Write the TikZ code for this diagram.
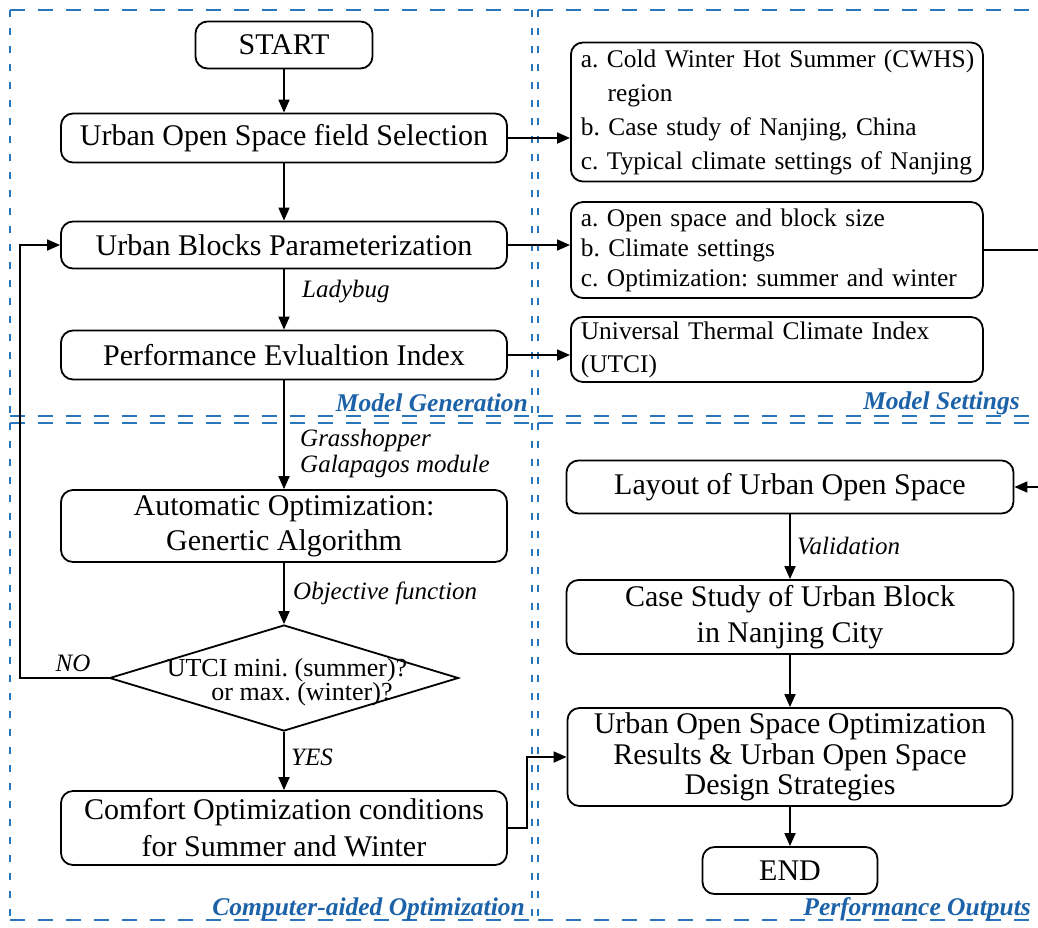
\documentclass[tikz,border=0pt]{standalone}
\usepackage{fontspec}
\setmainfont{Liberation Serif}
\usetikzlibrary{arrows.meta,shapes.geometric}
\definecolor{dashblue}{RGB}{40,118,188}
\definecolor{labblue}{RGB}{28,98,168}
\frenchspacing
\begin{document}
\begin{tikzpicture}[x=1pt,y=-1pt,
  box/.style={draw=black, line width=1.8pt, rounded corners=12pt, inner sep=0pt, align=center, font=\fontsize{30}{35}\selectfont},
  sidebox/.style={draw=black, line width=1.8pt, rounded corners=12pt, inner xsep=10pt, inner ysep=0pt, align=left, anchor=west, text width=392pt},
  arr/.style={line width=1.8pt, -{Triangle[length=13pt,width=11pt]}},
  lab/.style={font=\fontsize{25}{26}\selectfont\itshape, inner sep=0pt},
  sect/.style={font=\fontsize{25.5}{27}\selectfont\bfseries\itshape, text=labblue, inner sep=0pt, anchor=east},
  hdash/.style={draw=dashblue, line width=2.6pt, dash pattern=on 15pt off 13pt},
  vdash/.style={draw=dashblue, line width=2.4pt, dash pattern=on 7pt off 11pt},
]
\useasboundingbox (0,0) rectangle (1038,927);
\clip (0,0) rectangle (1038,927);

% dashed quadrants
\draw[hdash] (10,10) -- (532,10);
\draw[hdash] (10,416) -- (532,416);
\draw[vdash] (10,10) -- (10,416);
\draw[vdash] (532,10) -- (532,416);
\draw[hdash] (538,10) -- (1050,10);
\draw[hdash] (538,416) -- (1050,416);
\draw[vdash] (538,10) -- (538,416);
\draw[hdash] (10,423) -- (532,423);
\draw[hdash] (10,920) -- (532,920);
\draw[vdash] (10,423) -- (10,920);
\draw[vdash] (532,423) -- (532,920);
\draw[hdash] (538,423) -- (1050,423);
\draw[hdash] (538,920) -- (1050,920);
\draw[vdash] (538,423) -- (538,920);

% left column
\node[box, minimum width=177pt, minimum height=47pt] (start) at (284,45) {START};
\node[box, minimum width=446pt, minimum height=49pt] (sel) at (284,138) {Urban Open Space field Selection};
\node[box, minimum width=446pt, minimum height=47pt] (ubp) at (284,245) {Urban Blocks Parameterization};
\node[box, minimum width=446pt, minimum height=49pt] (pei) at (284,355) {Performance Evlualtion Index};
\node[box, minimum width=446pt, minimum height=72pt] (auto) at (284,526) {Automatic Optimization:\\Genertic Algorithm};
\node[draw, diamond, line width=1.8pt, minimum width=349pt, minimum height=106pt, inner sep=0pt] (dia) at (284,678) {};
\node[align=center, inner sep=0pt, font=\fontsize{26}{24}\selectfont] (diatext) at (287,682) {UTCI mini. (summer)?\\\hspace*{30pt}or max. (winter)?};
\node[box, minimum width=446pt, minimum height=74pt, font=\fontsize{30}{37}\selectfont] (comfort) at (284,828) {Comfort Optimization conditions\\for Summer and Winter};

% right column
\node[sidebox, minimum height=139pt, font=\fontsize{25.4}{34}\selectfont] (s1) at (570,112) {\mbox{a. Cold Winter Hot Summer (CWHS)}\\\hspace*{1.05em}region\\\mbox{b. Case study of Nanjing, China}\\\mbox{c. Typical climate settings of Nanjing}};
\node[sidebox, minimum height=96pt, font=\fontsize{25.4}{30}\selectfont] (s2) at (570,250) {\mbox{a. Open space and block size}\\\mbox{b. Climate settings}\\\mbox{c. Optimization: summer and winter}};
\node[sidebox, minimum height=65pt, font=\fontsize{25.4}{33}\selectfont] (s3) at (570,349.5) {\mbox{Universal Thermal Climate Index}\\(UTCI)};

\node[box, minimum width=447pt, minimum height=53pt] (layout) at (790,487) {Layout of Urban Open Space};
\node[box, minimum width=447pt, minimum height=74pt, font=\fontsize{30}{36}\selectfont] (case) at (790,617) {Case Study of Urban Block\\in Nanjing City};
\node[box, minimum width=445pt, minimum height=98pt, font=\fontsize{30}{30.5}\selectfont] (res) at (790,757) {Urban Open Space Optimization\\Results \& Urban Open Space\\Design Strategies};
\node[box, minimum width=175pt, minimum height=47pt] (end) at (790,870.5) {END};

% labels
\node[lab, anchor=west] (lady) at (302,292) {Ladybug};
\node[lab, anchor=west, align=left] (grass) at (300,453) {Grasshopper\\Galapagos module};
\node[lab, anchor=west] (obj) at (293,593) {Objective function};
\node[lab, anchor=west] (yes) at (291,757) {YES};
\node[lab] (no) at (73,663) {NO};
\node[lab, anchor=west] (valid) at (797,546) {Validation};

\node[sect] (mg) at (528,403) {Model Generation};
\node[sect] (ms) at (1020,403) {Model Settings};
\node[sect] (cao) at (525,909) {Computer-aided Optimization};
\node[sect] (po) at (1031,909) {Performance Outputs};

% connectors
\draw[arr] (start) -- (sel);
\draw[arr] (sel) -- (ubp);
\draw[arr] (ubp) -- (pei);
\draw[arr] (pei) -- (auto);
\draw[arr] (auto) -- (dia);
\draw[arr] (dia) -- (comfort);
\draw[arr] (dia.west) -- ++(-89,0) |- (ubp.west);
\draw[arr] (sel.east) -- (sel.east -| s1.west);
\draw[arr] (ubp.east) -- (ubp.east -| s2.west);
\draw[arr] (pei.east) -- (pei.east -| s3.west);
\draw[arr] (s2.east) -- ++(63,0) |- (layout.east);
\draw[arr] (layout) -- (case);
\draw[arr] (case) -- (res);
\draw[arr] (res) -- (end);
\draw[arr] (comfort.east) -- ++(19,0) |- (res.west);
\end{tikzpicture}
\end{document}
